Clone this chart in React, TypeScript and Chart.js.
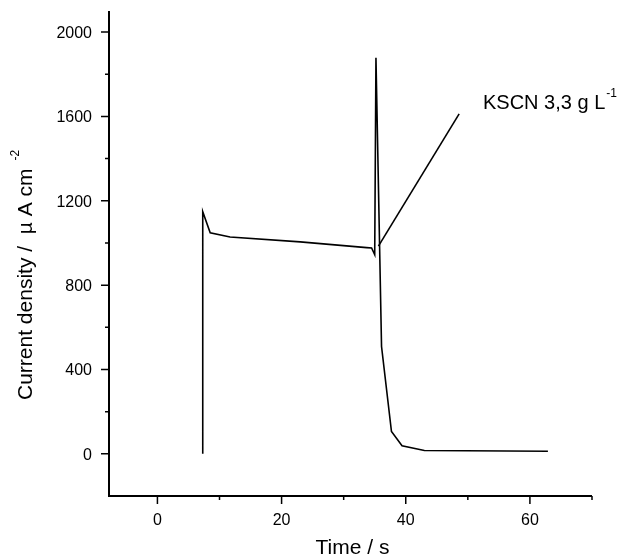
import React, { useEffect, useRef } from "react";
import { Chart, registerables } from "chart.js";

Chart.register(...registerables);

// Main current-density transient (time s, current µA cm^-2)
const MAIN_T = [7.3, 7.3, 8.5, 11.7, 23, 33.7, 34.5, 35.0, 35.2, 36.1, 37.7, 39.4, 43.0, 62.9];
const MAIN_J = [0, 1148, 1048, 1028, 1005, 978, 976, 944, 1878, 509, 106, 38, 16, 12];
// KSCN branch
const KSCN_T = [35.6, 48.6];
const KSCN_J = [985, 1612];

const X_TICKS = [0, 20, 40, 60];
const X_MINOR = [10, 30, 50, 70];
const Y_TICKS = [0, 400, 800, 1200, 1600, 2000];
const Y_MINOR = [200, 600, 1000, 1400, 1800];

const X_TITLE = "Time / s";
const Y_TITLE = "Current density /  \u00b5 A cm";
const Y_TITLE_SUP = "-2";
const SERIES_LABEL = "KSCN 3,3 g L";
const SERIES_LABEL_SUP = "-1";

const FONT = 'Arial, "Liberation Sans", Helvetica, sans-serif';

const toPoints = (xs: number[], ys: number[]) => xs.map((x, i) => ({ x, y: ys[i] }));

const decorPlugin = {
  id: "decor",
  afterDraw(chart: any) {
    const ctx = chart.ctx as CanvasRenderingContext2D;
    const xs = chart.scales.x;
    const ys = chart.scales.y;
    const ca = chart.chartArea;
    ctx.save();
    ctx.strokeStyle = "#000";
    ctx.fillStyle = "#000";
    // axes
    ctx.lineWidth = 2;
    ctx.beginPath();
    ctx.moveTo(ca.left, ca.top);
    ctx.lineTo(ca.left, ca.bottom);
    ctx.lineTo(ca.right, ca.bottom);
    ctx.stroke();
    // ticks
    ctx.lineWidth = 1.5;
    ctx.beginPath();
    Y_TICKS.forEach((v) => {
      const p = ys.getPixelForValue(v);
      ctx.moveTo(ca.left - 8, p);
      ctx.lineTo(ca.left, p);
    });
    Y_MINOR.forEach((v) => {
      const p = ys.getPixelForValue(v);
      ctx.moveTo(ca.left - 4, p);
      ctx.lineTo(ca.left, p);
    });
    X_TICKS.forEach((v) => {
      const p = xs.getPixelForValue(v);
      ctx.moveTo(p, ca.bottom);
      ctx.lineTo(p, ca.bottom + 8);
    });
    X_MINOR.forEach((v) => {
      const p = xs.getPixelForValue(v);
      ctx.moveTo(p, ca.bottom);
      ctx.lineTo(p, ca.bottom + 4);
    });
    ctx.stroke();
    // tick labels
    ctx.font = `16px ${FONT}`;
    ctx.textBaseline = "alphabetic";
    ctx.textAlign = "right";
    Y_TICKS.forEach((v) => {
      const p = ys.getPixelForValue(v);
      ctx.fillText(String(v), ca.left - 17, p + 6);
    });
    ctx.textAlign = "center";
    X_TICKS.forEach((v) => {
      const p = xs.getPixelForValue(v);
      ctx.fillText(String(v), p, ca.bottom + 29);
    });
    // x title
    ctx.font = `21px ${FONT}`;
    ctx.fillText(X_TITLE, (ca.left + ca.right) / 2 + 2, 554);
    // y title
    ctx.save();
    ctx.translate(32, 400);
    ctx.rotate(-Math.PI / 2);
    ctx.textAlign = "left";
    ctx.font = `21px ${FONT}`;
    ctx.fillText(Y_TITLE, 0, 0);
    const w = ctx.measureText(Y_TITLE).width;
    ctx.font = `12px ${FONT}`;
    ctx.fillText(Y_TITLE_SUP, w + 8, -13);
    ctx.restore();
    // series label
    ctx.textAlign = "left";
    ctx.font = `20px ${FONT}`;
    ctx.fillText(SERIES_LABEL, 483, 109);
    const w2 = ctx.measureText(SERIES_LABEL).width;
    ctx.font = `12px ${FONT}`;
    ctx.fillText(SERIES_LABEL_SUP, 483 + w2 + 1, 97);
    ctx.restore();
  },
};

export default function App() {
  const ref = useRef<HTMLCanvasElement | null>(null);
  useEffect(() => {
    document.body.style.margin = "0";
    const canvas = ref.current!;
    const chart = new Chart(canvas, {
      type: "scatter",
      data: {
        datasets: [
          {
            data: toPoints(MAIN_T, MAIN_J),
            showLine: true,
            borderColor: "#000",
            borderWidth: 1.6,
            pointRadius: 0,
            tension: 0,
          },
          {
            data: toPoints(KSCN_T, KSCN_J),
            showLine: true,
            borderColor: "#000",
            borderWidth: 1.6,
            pointRadius: 0,
            tension: 0,
          },
        ],
      },
      options: {
        animation: false,
        responsive: false,
        maintainAspectRatio: false,
        layout: { padding: { top: 11, right: 38, left: 0, bottom: 0 } },
        plugins: { legend: { display: false }, tooltip: { enabled: false } },
        scales: {
          x: {
            type: "linear",
            min: -7.8,
            max: 70,
            grid: { display: false, drawTicks: false },
            border: { display: false },
            ticks: { display: false },
            afterFit: (s: any) => {
              s.height = 62;
            },
          },
          y: {
            type: "linear",
            min: -200,
            max: 2100,
            grid: { display: false, drawTicks: false },
            border: { display: false },
            ticks: { display: false },
            afterFit: (s: any) => {
              s.width = 109;
            },
          },
        },
      },
      plugins: [decorPlugin],
    });
    return () => chart.destroy();
  }, []);
  return (
    <div style={{ position: "absolute", left: 0, top: 0, width: 630, height: 558, background: "#fff" }}>
      <canvas ref={ref} width={630} height={558} style={{ width: 630, height: 558, display: "block" }} />
    </div>
  );
}
